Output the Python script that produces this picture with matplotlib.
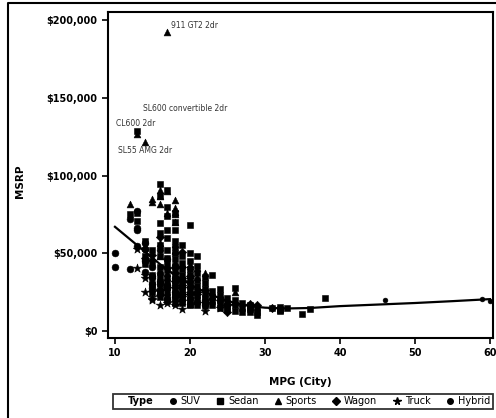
import matplotlib
matplotlib.use("Agg")
import matplotlib.pyplot as plt
from matplotlib.lines import Line2D
from matplotlib.ticker import StrMethodFormatter

# (MPG city, MSRP) pairs, one list per vehicle type
suv = [(10, 49995), (10, 41475), (12, 39640), (12, 72250), (13, 76870), (13, 64800),
       (13, 66000), (13, 54765), (14, 56665), (14, 52795), (14, 52775), (14, 46470),
       (14, 45210), (14, 37895), (15, 35515), (15, 41010), (15, 29995), (15, 33995),
       (15, 27560), (16, 52195), (16, 37000), (16, 30295), (16, 26545), (16, 32235),
       (16, 23895), (17, 46100), (17, 27905), (17, 29670), (17, 20370), (18, 33995),
       (18, 25395), (18, 21595), (18, 31849), (19, 23675), (19, 27339), (19, 19635),
       (20, 17345), (20, 20290), (21, 18690), (22, 16695), (22, 19860)]

sedan = [(12, 74995), (13, 128420), (13, 76200), (13, 71000), (14, 48040), (14, 43000),
         (14, 58000), (15, 36000), (15, 44000), (15, 52000), (15, 30000), (15, 25000),
         (16, 94820), (16, 86970), (16, 69190), (16, 63120), (16, 55000), (16, 48000),
         (16, 41000), (16, 35000), (16, 30000), (16, 26000), (16, 22000),
         (17, 90520), (17, 80000), (17, 74000), (17, 65000), (17, 60000), (17, 52000),
         (17, 47000), (17, 43000), (17, 39000), (17, 35000), (17, 31000), (17, 28000),
         (17, 25000), (17, 22000), (17, 19000),
         (18, 76000), (18, 70000), (18, 65000), (18, 58000), (18, 54000), (18, 50000),
         (18, 46000), (18, 42000), (18, 39000), (18, 36000), (18, 33000), (18, 30000),
         (18, 27000), (18, 24000), (18, 21000), (18, 18000),
         (19, 55000), (19, 48000), (19, 44000), (19, 40000), (19, 36000), (19, 33000),
         (19, 30000), (19, 27000), (19, 24000), (19, 21000), (19, 18000),
         (20, 68000), (20, 50000), (20, 45000), (20, 40000), (20, 36000), (20, 32000),
         (20, 29000), (20, 26000), (20, 23000), (20, 20000), (20, 17000),
         (21, 48000), (21, 42000), (21, 37000), (21, 33000), (21, 29000), (21, 26000),
         (21, 23000), (21, 20000), (21, 17000),
         (22, 35000), (22, 31000), (22, 27000), (22, 24000), (22, 21000), (22, 18000),
         (22, 16000), (23, 35940), (23, 26000), (23, 22000), (23, 19000), (23, 16500),
         (24, 27000), (24, 23000), (24, 20000), (24, 17500), (24, 15000),
         (25, 21000), (25, 18000), (25, 15500), (25, 13500),
         (26, 27500), (26, 20000), (26, 16500), (26, 13000),
         (27, 18000), (27, 15000), (27, 12500),
         (28, 17000), (28, 15500), (28, 14000), (28, 12000),
         (29, 14500), (29, 12500), (29, 10539), (31, 15000),
         (32, 15500), (32, 14085), (32, 13270), (32, 12965), (33, 14500),
         (35, 10760), (36, 14170), (38, 21055)]

sports = [(17, 192465), (13, 126670), (14, 121770), (12, 81795), (15, 83130), (15, 84600),
          (17, 89765), (16, 90520), (16, 86995), (16, 81995), (18, 79165), (18, 84165),
          (18, 76765), (18, 69995), (18, 74995), (17, 76200), (18, 56170), (18, 52365),
          (20, 43365), (21, 40320), (20, 35940), (22, 37390), (20, 41815), (21, 34800),
          (23, 22388), (18, 25700), (18, 27200), (20, 26910), (20, 34390), (20, 33260),
          (21, 19325), (23, 25092), (26, 25130), (23, 22570), (17, 34495), (18, 18345),
          (17, 29380), (16, 33500), (18, 31545), (18, 29562), (18, 44535), (18, 51535),
          (17, 37530), (18, 29795), (16, 48195), (16, 56595), (20, 17499), (19, 19339),
          (24, 23820)]

wagon = [(16, 60670), (15, 45940), (20, 35145), (22, 26135), (20, 23895), (19, 29345),
         (26, 17475), (21, 23560), (29, 16780), (28, 17045), (19, 23955), (19, 32845),
         (18, 40840), (15, 49090), (19, 33780), (19, 50670), (19, 40845), (21, 24955),
         (17, 40235), (18, 32455), (25, 16497), (25, 11905), (25, 17495), (19, 22290),
         (31, 14500), (24, 20000), (22, 18500), (20, 28000), (18, 37000), (17, 28000)]

truck = [(13, 52975), (14, 36100), (15, 20310), (13, 40340), (18, 18760), (16, 22350),
         (15, 20215), (16, 25717), (15, 22010), (19, 14385), (18, 16530), (14, 46265),
         (15, 25395), (17, 17849), (19, 19479), (14, 25175), (14, 33840), (22, 12800),
         (20, 24350), (16, 16495), (16, 26650), (24, 14840), (16, 26000), (21, 24520)]

hybrid = [(60, 19110), (59, 20510), (46, 20140)]

# loess fit
loess_mpg = [10, 12, 14, 16, 18, 20, 22, 24, 26, 28, 30, 33, 36, 40, 45, 50, 55, 60]
loess_msrp = [67000, 59000, 51000, 43000, 36000, 30000, 25000, 21000, 18000, 16000,
              15000, 14500, 14800, 16000, 17000, 18000, 19200, 20500]

# labelled outliers: (text, mpg, msrp, x offset px, y offset px, ha, va)
outliers = [("911 GT2 2dr", 17, 192465, 4, 6, "left", "center"),
            ("SL600 convertible 2dr", 13, 126670, 6, 26, "left", "center"),
            ("CL600 2dr", 13, 128420, -2, 8, "center", "center"),
            ("SL55 AMG 2dr", 14, 121770, 0, -4, "center", "top")]

groups = [("SUV", suv, "o", 24), ("Sedan", sedan, "s", 20), ("Sports", sports, "^", 24),
          ("Wagon", wagon, "D", 18), ("Truck", truck, "*", 42), ("Hybrid", hybrid, "o", 12)]

fig = plt.figure(figsize=(4.96, 4.18), dpi=100)
ax = fig.add_axes([108 / 496, 80 / 418, 385 / 496, 326 / 418])

for name, pts, mk, sz in groups:
    xs = [p[0] for p in pts]
    ys = [p[1] for p in pts]
    ax.scatter(xs, ys, marker=mk, s=sz, c="black", linewidths=0.4, edgecolors="black")

ax.plot(loess_mpg, loess_msrp, color="black", lw=1.6)

for text, mx, my, dx, dy, ha, va in outliers:
    ax.annotate(text, (mx, my), xytext=(dx, dy), textcoords="offset pixels",
                ha=ha, va=va, fontsize=5.5, color="#333333")

ax.set_xlim(9.07, 60.4)
ax.set_ylim(-4500, 205150)
ax.set_xticks([10, 20, 30, 40, 50, 60])
ax.set_yticks([0, 50000, 100000, 150000, 200000])
ax.yaxis.set_major_formatter(StrMethodFormatter("${x:,.0f}"))
ax.tick_params(direction="out", length=4, width=1.2, labelsize=7)
for lab in ax.get_xticklabels() + ax.get_yticklabels():
    lab.set_fontweight("bold")
for sp in ax.spines.values():
    sp.set_linewidth(1.5)

ax.set_xlabel("MPG (City)", fontsize=7.5, fontweight="bold")
ax.set_ylabel("MSRP", fontsize=7.5, fontweight="bold")
ax.xaxis.set_label_coords(0.5, -0.12)
ax.yaxis.set_label_coords(-0.215, 0.48)

handles = [Line2D([], [], linestyle="none", marker="")]
labels = ["Type"]
for name, pts, mk, sz in groups:
    handles.append(Line2D([], [], linestyle="none", marker=mk, color="black",
                          markersize=4 if mk != "*" else 5.5))
    labels.append(name)
leg = fig.legend(handles, labels, loc="center", bbox_to_anchor=(303 / 496, 16.5 / 418),
                 ncol=7, fontsize=7, frameon=True, handlelength=0.8,
                 handletextpad=0.4, columnspacing=1.6, borderpad=0.3, fancybox=False)
leg.get_frame().set_edgecolor("black")
leg.get_frame().set_linewidth(1.3)
leg.get_texts()[0].set_fontweight("bold")

# border of the scanned page
fig.add_artist(Line2D([8 / 496, 8 / 496, 1.0], [0.0, 1 - 3 / 418, 1 - 3 / 418],
                      transform=fig.transFigure, color="black", lw=1.5))

fig.savefig("out.png", dpi=100)
